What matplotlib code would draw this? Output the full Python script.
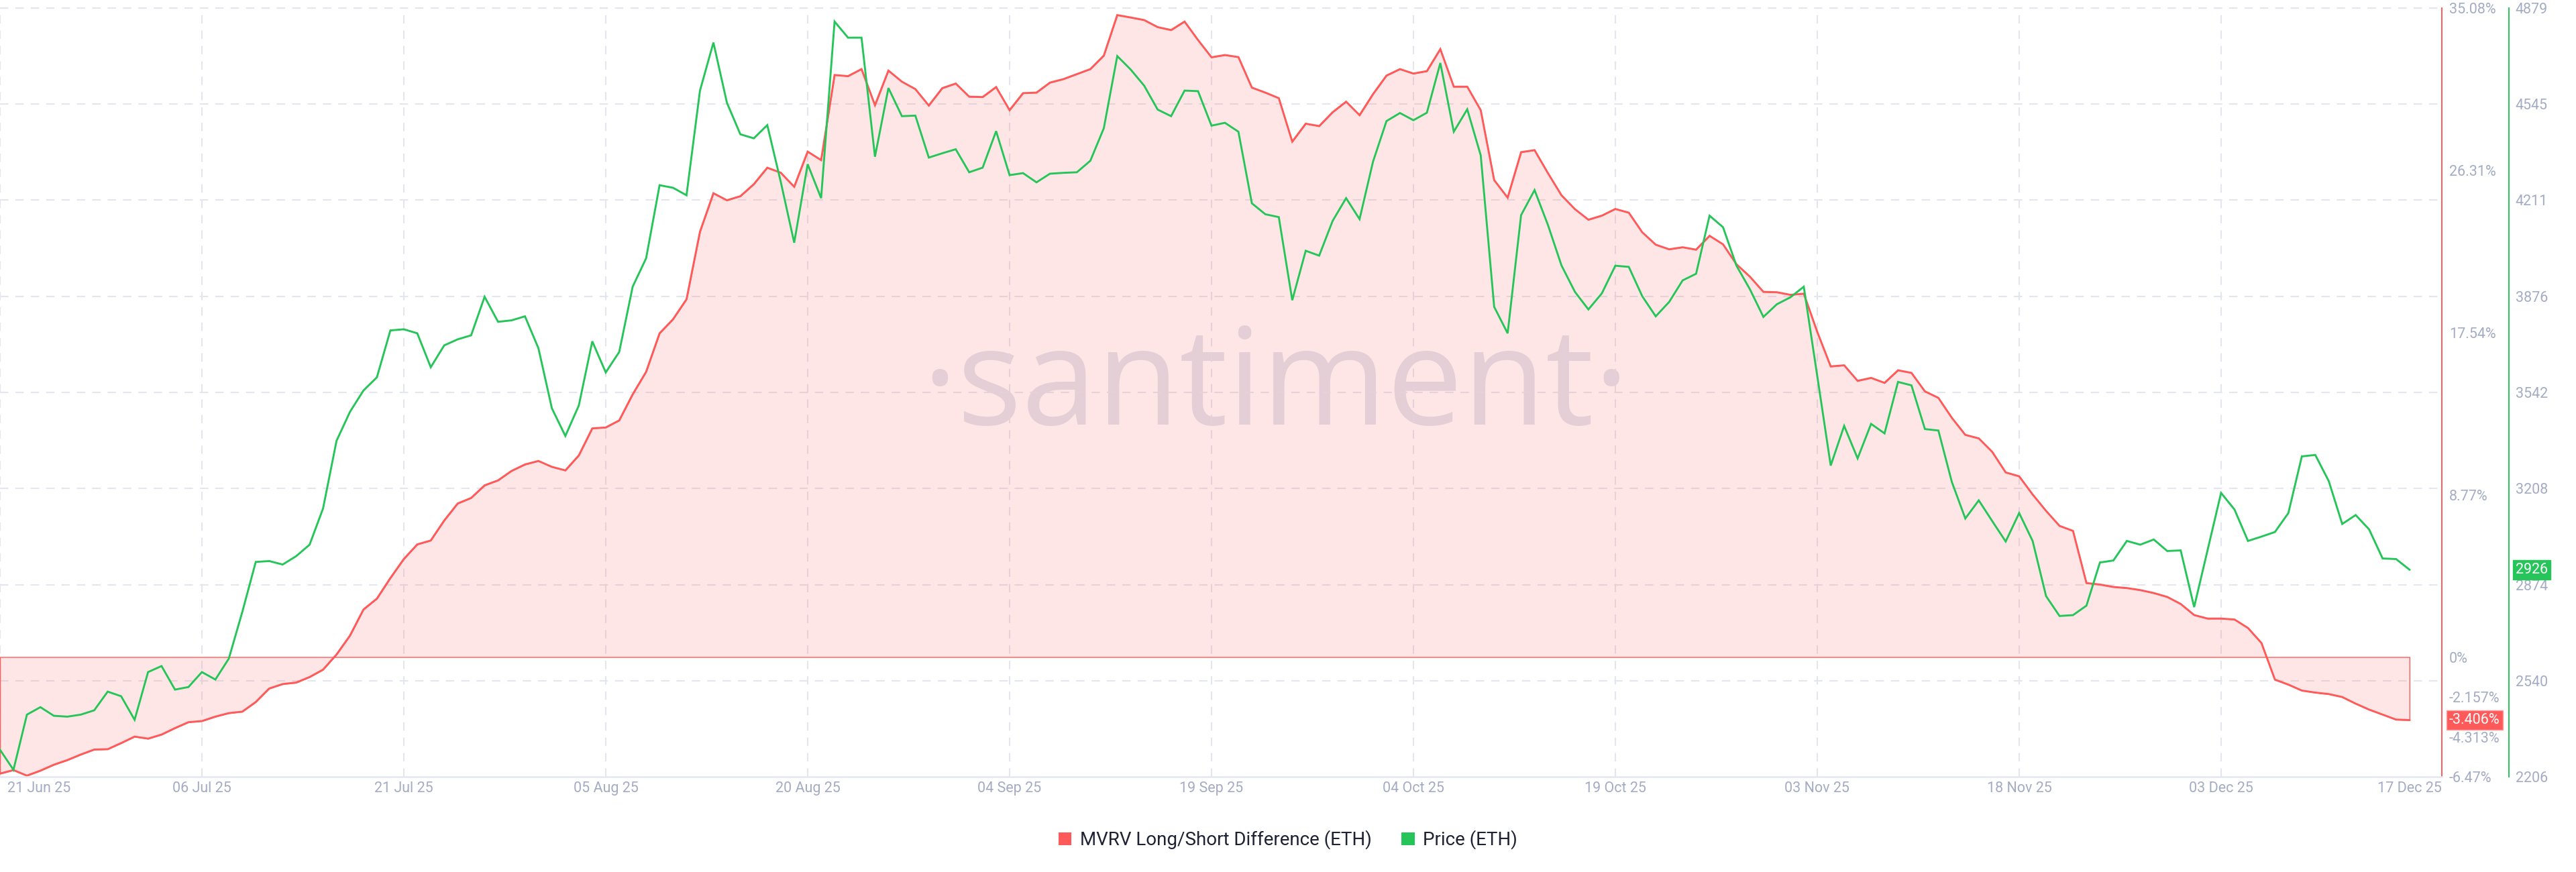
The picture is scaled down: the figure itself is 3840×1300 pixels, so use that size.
import matplotlib
matplotlib.use("Agg")
import matplotlib.pyplot as plt
import matplotlib.dates as mdates
from matplotlib.patches import Patch
from matplotlib.transforms import blended_transform_factory
import pandas as pd
import numpy as np

# ---------------- data ----------------
start_date = "2025-06-21"
mvrv = [
    -6.30, -6.11, -6.41, -6.14, -5.82, -5.57, -5.27, -5.00, -4.98, -4.65,
    -4.30, -4.41, -4.19, -3.84, -3.52, -3.46, -3.22, -3.03, -2.95, -2.43,
    -1.70, -1.46, -1.38, -1.08, -0.68, 0.14, 1.16, 2.57, 3.16, 4.27,
    5.30, 6.09, 6.30, 7.38, 8.30, 8.60, 9.28, 9.55, 10.06, 10.41,
    10.60, 10.28, 10.09, 10.90, 12.36, 12.41, 12.79, 14.20, 15.42, 17.50,
    18.26, 19.34, 22.99, 25.07, 24.69, 24.91, 25.56, 26.45, 26.18, 25.42,
    27.32, 26.86, 31.46, 31.40, 31.78, 29.83, 31.70, 31.10, 30.70, 29.81,
    30.75, 31.00, 30.29, 30.27, 30.81, 29.56, 30.48, 30.51, 31.05, 31.24,
    31.51, 31.78, 32.51, 34.70, 34.57, 34.43, 34.05, 33.89, 34.35, 33.35,
    32.42, 32.54, 32.43, 30.78, 30.51, 30.21, 27.86, 28.83, 28.70, 29.45,
    30.02, 29.29, 30.43, 31.43, 31.78, 31.54, 31.67, 32.86, 30.83, 30.83,
    29.56, 25.78, 24.83, 27.29, 27.40, 26.15, 24.96, 24.21, 23.64, 23.86,
    24.22, 24.02, 22.96, 22.29, 22.04, 22.15, 22.02, 22.77, 22.31, 21.23,
    20.56, 19.74, 19.72, 19.58, 19.64, 17.58, 15.71, 15.77, 14.93, 15.09,
    14.82, 15.50, 15.36, 14.36, 14.01, 12.93, 12.01, 11.82, 11.09, 9.98,
    9.77, 8.79, 7.90, 7.09, 6.82, 4.00, 3.92, 3.79, 3.73, 3.62,
    3.46, 3.25, 2.87, 2.27, 2.08, 2.08, 2.03, 1.57, 0.76, -1.22,
    -1.49, -1.81, -1.92, -2.00, -2.16, -2.52, -2.84, -3.11, -3.38, -3.406,
]
price = [
    2300, 2230, 2422, 2448, 2418, 2415, 2422, 2437, 2502, 2486,
    2404, 2570, 2591, 2509, 2518, 2570, 2544, 2617, 2779, 2953,
    2956, 2944, 2973, 3013, 3139, 3374, 3475, 3549, 3595, 3758,
    3762, 3748, 3630, 3706, 3727, 3741, 3875, 3788, 3793, 3807,
    3696, 3487, 3391, 3497, 3720, 3612, 3683, 3910, 4009, 4263,
    4254, 4228, 4592, 4759, 4550, 4440, 4426, 4472, 4275, 4063,
    4336, 4218, 4832, 4776, 4776, 4362, 4601, 4503, 4505, 4359,
    4374, 4388, 4308, 4324, 4451, 4298, 4305, 4273, 4303, 4306,
    4308, 4348, 4461, 4712, 4665, 4609, 4526, 4503, 4592, 4590,
    4470, 4480, 4449, 4200, 4162, 4152, 3863, 4035, 4018, 4139,
    4218, 4145, 4345, 4486, 4514, 4489, 4515, 4688, 4449, 4527,
    4367, 3840, 3748, 4159, 4246, 4124, 3984, 3892, 3831, 3887,
    3983, 3979, 3877, 3807, 3857, 3932, 3955, 4157, 4117, 3983,
    3901, 3805, 3849, 3873, 3910, 3600, 3288, 3426, 3313, 3433,
    3400, 3579, 3567, 3415, 3410, 3231, 3104, 3167, 3095, 3024,
    3123, 3026, 2834, 2765, 2768, 2801, 2951, 2958, 3026, 3013,
    3031, 2991, 2993, 2796, 2994, 3193, 3135, 3026, 3041, 3057,
    3123, 3320, 3325, 3234, 3085, 3116, 3066, 2965, 2963, 2926,
]
grid_dates = ["2025-06-21", "2025-07-06", "2025-07-21", "2025-08-05", "2025-08-20",
              "2025-09-04", "2025-09-19", "2025-10-04", "2025-10-19", "2025-11-03",
              "2025-11-18", "2025-12-03"]
label_dates = grid_dates[1:] + ["2025-12-17"]
mvrv_ticks = [35.08, 26.31, 17.54, 8.77, 0, -2.157, -4.313, -6.47]
mvrv_tick_labels = ["35.08%", "26.31%", "17.54%", "8.77%", "0%", "-2.157%", "-4.313%", "-6.47%"]
price_ticks = [4879, 4545, 4211, 3876, 3542, 3208, 2874, 2540, 2206]
series_names = ["MVRV Long/Short Difference (ETH)", "Price (ETH)"]

# ---------------- style ----------------
RED = "#ff5a5a"
GREEN = "#26c55a"
TICK = "#a3acc3"
GRID = "#e3e6ef"
FONT = ["Roboto", "DejaVu Sans"]
plt.rcParams["font.family"] = FONT
TS = 15.5

dates = pd.date_range(start_date, periods=len(mvrv), freq="D")

fig = plt.figure(figsize=(38.4, 13), dpi=100)
fig.patch.set_facecolor("white")
ax = fig.add_axes([0.0, 1 - 1158 / 1300, 3640 / 3840, 1146 / 1300])
ax2 = ax.twinx()

ax.set_ylim(-6.47, 35.08)
ax2.set_ylim(2206, 4879)
x0 = mdates.date2num(dates[0])
ax.set_xlim(x0, x0 + 181.4)
ax.set_facecolor("none")

# grid lines (under the fill)
dash = (0, (6, 5))
for d in grid_dates:
    ax.axvline(pd.Timestamp(d), color=GRID, lw=1.5, ls=dash, zorder=0.8)
htrans = blended_transform_factory(ax.transAxes, ax2.transData)
for p in price_ticks[:-1]:
    ax.plot([0, 1], [p, p], transform=htrans, color=GRID, lw=1.5, ls=dash,
            zorder=0.8, clip_on=False)

# watermark
ax.text(0.5223, 0.4581, "\u00b7santiment\u00b7", transform=ax.transAxes,
        ha="center", va="baseline", fontsize=145, color="#e0e4ee",
        family=["Open Sans", "DejaVu Sans"], zorder=0.5)

# MVRV area + line
ax.fill_between(dates, mvrv, 0, facecolor=(1, 0.353, 0.353, 0.15),
                edgecolor=(1, 0.353, 0.353, 1.0), linewidth=1.0, zorder=1)
ax.plot(dates, mvrv, color=RED, lw=2.1, zorder=2, solid_joinstyle="miter")

# price line
ax2.plot(dates, price, color=GREEN, lw=2.1, zorder=3, solid_joinstyle="miter")

# spines
for s in ["left", "top"]:
    ax.spines[s].set_visible(False)
ax.spines["bottom"].set_color("#e3e7f0")
ax.spines["bottom"].set_linewidth(1.8)
ax.spines["right"].set_color(RED)
ax.spines["right"].set_linewidth(1.4)
for s in ["left", "top", "bottom"]:
    ax2.spines[s].set_visible(False)
ax2.spines["right"].set_position(("outward", 72))
ax2.spines["right"].set_color(GREEN)
ax2.spines["right"].set_linewidth(1.4)

# y ticks
ax.yaxis.tick_right()
ax.set_yticks(mvrv_ticks)
ax.set_yticklabels(mvrv_tick_labels)
ax.tick_params(axis="y", length=0, pad=8, labelsize=TS, labelcolor=TICK)
ax2.set_yticks(price_ticks)
ax2.set_yticklabels([str(p) for p in price_ticks])
ax2.tick_params(axis="y", length=0, pad=7, labelsize=TS, labelcolor=TICK)

# x ticks
ax.set_xticks([pd.Timestamp(d) for d in label_dates])
ax.set_xticklabels([pd.Timestamp(d).strftime("%d %b %y") for d in label_dates])
ax.tick_params(axis="x", length=0, pad=5, labelsize=TS, labelcolor=TICK)
ax.annotate(pd.Timestamp(grid_dates[0]).strftime("%d %b %y"),
            xy=(pd.Timestamp(grid_dates[0]), 0), xycoords=("data", "axes fraction"),
            xytext=(8, -5), textcoords="offset points", ha="left", va="top",
            fontsize=TS, color=TICK, annotation_clip=False)

# last value badges
ax.annotate(f"{mvrv[-1]:.3f}%", xy=(1, mvrv[-1]), xycoords=("axes fraction", "data"),
            xytext=(8, 0), textcoords="offset points", ha="left", va="center",
            fontsize=TS, color="white", annotation_clip=False, zorder=10,
            bbox=dict(boxstyle="square,pad=0.18", fc=RED, ec="#ff9c9c", lw=1))
ax2.annotate(f"{price[-1]:.0f}", xy=(1, price[-1]), xycoords=("axes fraction", "data"),
             xytext=(79, 0), textcoords="offset points", ha="left", va="center",
             fontsize=TS, color="white", annotation_clip=False, zorder=10,
             bbox=dict(boxstyle="square,pad=0.18", fc=GREEN, ec=GREEN, lw=1))

# legend
handles = [Patch(facecolor=RED, edgecolor="none"), Patch(facecolor=GREEN, edgecolor="none")]
leg = fig.legend(handles, series_names, loc="center", bbox_to_anchor=(0.5, 1 - 1252 / 1300),
                 ncol=2, frameon=False, fontsize=20, handlelength=0.7, handleheight=0.7,
                 handletextpad=0.45, columnspacing=1.6, borderaxespad=0)
for t in leg.get_texts():
    t.set_color("#1f2232")

fig.savefig("out.png", dpi=100, facecolor="white")
